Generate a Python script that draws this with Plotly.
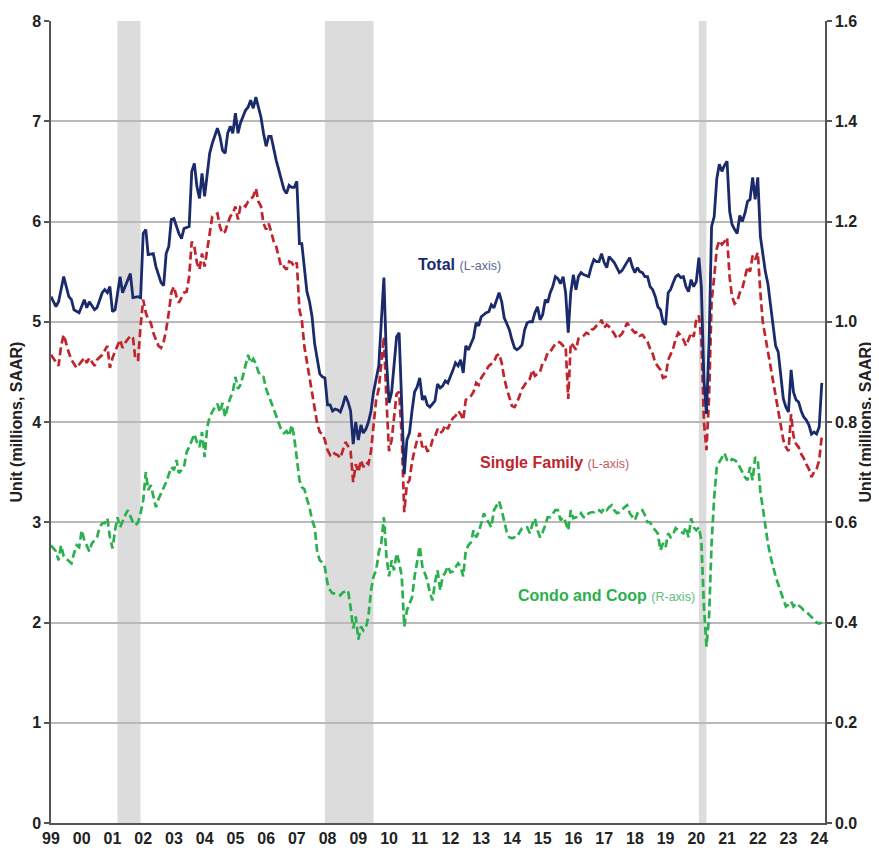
import plotly.graph_objects as go

# ---------------- data ----------------
total_dates = [
 "1999-01","1999-03","1999-04","1999-06","1999-08","1999-09","1999-10","1999-12",
 "2000-02","2000-03","2000-04","2000-06","2000-07","2000-09","2000-10","2000-11","2000-12",
 "2001-01","2001-02","2001-04","2001-05","2001-07","2001-08","2001-09","2001-11","2001-12",
 "2002-01","2002-02","2002-03","2002-05","2002-06","2002-08","2002-09","2002-10","2002-11","2002-12",
 "2003-01","2003-03","2003-04","2003-05","2003-07","2003-08","2003-09","2003-10","2003-11","2003-12",
 "2004-01","2004-03","2004-04","2004-06","2004-07","2004-08","2004-09","2004-10","2004-11","2004-12",
 "2005-01","2005-02","2005-03","2005-05","2005-06","2005-07","2005-08","2005-09","2005-11","2005-12",
 "2006-01","2006-02","2006-03","2006-05","2006-07","2006-08","2006-09","2006-10","2006-11","2006-12",
 "2007-01","2007-02","2007-03","2007-04","2007-05","2007-06","2007-07","2007-08","2007-09","2007-10","2007-11","2007-12",
 "2008-01","2008-02","2008-03","2008-04","2008-05","2008-06","2008-07","2008-08","2008-09","2008-10","2008-11","2008-12",
 "2009-01","2009-02","2009-03","2009-04","2009-05","2009-06","2009-07","2009-08","2009-09","2009-10","2009-11","2009-12",
 "2010-01","2010-02","2010-03","2010-04","2010-05","2010-06","2010-07","2010-08","2010-09","2010-10","2010-11","2010-12",
 "2011-01","2011-02","2011-03","2011-04","2011-05","2011-06","2011-07","2011-08","2011-09","2011-10","2011-11","2011-12",
 "2012-01","2012-02","2012-03","2012-04","2012-05","2012-06","2012-07","2012-08","2012-09","2012-10","2012-11","2012-12",
 "2013-01","2013-02","2013-03","2013-04","2013-05","2013-06","2013-07","2013-08","2013-09","2013-10","2013-11","2013-12",
 "2014-01","2014-02","2014-03","2014-04","2014-05","2014-06","2014-07","2014-08","2014-09","2014-10","2014-11","2014-12",
 "2015-01","2015-02","2015-03","2015-04","2015-05","2015-06","2015-07","2015-08","2015-09","2015-10","2015-11","2015-12",
 "2016-01","2016-02","2016-03","2016-04","2016-05","2016-06","2016-07","2016-08","2016-09","2016-10","2016-11","2016-12",
 "2017-01","2017-02","2017-03","2017-04","2017-05","2017-06","2017-07","2017-08","2017-09","2017-10","2017-11","2017-12",
 "2018-01","2018-02","2018-03","2018-04","2018-05","2018-06","2018-07","2018-08","2018-09","2018-10","2018-11","2018-12",
 "2019-01","2019-02","2019-03","2019-04","2019-05","2019-06","2019-07","2019-08","2019-09","2019-10","2019-11","2019-12",
 "2020-01","2020-02","2020-03","2020-04","2020-05","2020-06","2020-07","2020-08","2020-09","2020-10","2020-11","2020-12",
 "2021-01","2021-02","2021-03","2021-04","2021-05","2021-06","2021-07","2021-08","2021-09","2021-10","2021-11","2021-12",
 "2022-01","2022-02","2022-03","2022-04","2022-05","2022-06","2022-07","2022-08","2022-09","2022-10","2022-11","2022-12",
 "2023-01","2023-02","2023-03","2023-04","2023-05","2023-06","2023-07","2023-08","2023-09","2023-10","2023-11","2023-12",
 "2024-01","2024-02"]
total_vals = [
 5.25,5.15,5.20,5.45,5.25,5.22,5.12,5.09,
 5.22,5.14,5.20,5.12,5.14,5.29,5.32,5.29,5.35,
 5.10,5.12,5.45,5.29,5.43,5.48,5.24,5.25,5.24,
 5.88,5.92,5.67,5.68,5.55,5.39,5.36,5.68,5.75,6.02,
 6.03,5.88,5.83,5.93,5.95,6.50,6.58,6.35,6.23,6.48,
 6.25,6.68,6.78,6.93,6.85,6.71,6.68,6.88,6.95,6.88,
 7.08,6.88,6.98,7.11,7.14,7.21,7.13,7.24,7.04,6.88,
 6.75,6.85,6.85,6.61,6.40,6.32,6.28,6.36,6.34,6.34,
 6.40,5.78,5.78,5.50,5.30,5.20,5.05,4.78,4.62,4.48,4.45,4.44,
 4.17,4.17,4.11,4.13,4.12,4.10,4.17,4.26,4.20,4.11,3.78,4.00,
 3.82,3.97,3.89,3.93,4.00,4.11,4.30,4.44,4.56,5.00,5.44,4.63,
 4.19,4.30,4.56,4.85,4.89,4.22,3.48,3.82,3.89,4.11,4.30,4.35,
 4.44,4.22,4.26,4.17,4.15,4.18,4.21,4.38,4.34,4.36,4.41,4.39,
 4.45,4.52,4.59,4.56,4.62,4.49,4.76,4.72,4.78,4.84,4.99,4.96,
 5.05,5.07,5.09,5.10,5.17,5.14,5.22,5.29,5.20,5.04,4.98,4.92,
 4.82,4.74,4.72,4.74,4.77,4.92,4.99,5.00,5.00,5.09,5.15,5.02,
 5.07,5.22,5.19,5.29,5.35,5.45,5.43,5.38,5.45,5.29,4.89,5.29,
 5.47,5.32,5.45,5.49,5.47,5.46,5.45,5.55,5.62,5.60,5.60,5.68,
 5.59,5.54,5.65,5.62,5.59,5.54,5.49,5.51,5.55,5.60,5.64,5.55,
 5.49,5.54,5.50,5.49,5.45,5.45,5.35,5.32,5.25,5.15,5.12,5.00,
 4.97,5.29,5.32,5.39,5.45,5.47,5.44,5.45,5.35,5.30,5.42,5.35,
 5.40,5.64,5.35,4.42,4.08,4.80,5.95,6.05,6.43,6.57,6.50,6.56,
 6.60,6.10,5.97,5.92,5.88,6.06,6.00,6.08,6.20,6.22,6.44,6.22,
 6.44,5.85,5.68,5.50,5.38,5.15,4.98,4.76,4.70,4.43,4.23,4.15,
 4.10,4.52,4.30,4.22,4.20,4.11,4.05,4.02,3.97,3.88,3.90,3.88,
 3.95,4.39]

sf_dates = [
 "1999-01","1999-03","1999-04","1999-05","1999-06","1999-08","1999-09","1999-11","1999-12",
 "2000-02","2000-03","2000-04","2000-06","2000-07","2000-09","2000-10","2000-11","2000-12",
 "2001-01","2001-03","2001-04","2001-05","2001-06","2001-08","2001-09","2001-10","2001-11","2001-12",
 "2002-01","2002-02","2002-03","2002-04","2002-05","2002-07","2002-08","2002-09","2002-10","2002-11","2002-12",
 "2003-01","2003-02","2003-03","2003-04","2003-05","2003-06","2003-07","2003-08","2003-09","2003-10","2003-11","2003-12",
 "2004-01","2004-02","2004-03","2004-04","2004-06","2004-07","2004-08","2004-09","2004-10","2004-11","2004-12",
 "2005-01","2005-02","2005-03","2005-04","2005-05","2005-06","2005-07","2005-08","2005-09","2005-10","2005-11","2005-12",
 "2006-01","2006-02","2006-03","2006-04","2006-05","2006-06","2006-07","2006-08","2006-09","2006-10","2006-11","2006-12",
 "2007-01","2007-02","2007-03","2007-04","2007-05","2007-06","2007-07","2007-08","2007-09","2007-10","2007-11","2007-12",
 "2008-01","2008-02","2008-03","2008-04","2008-05","2008-06","2008-07","2008-08","2008-09","2008-10","2008-11","2008-12",
 "2009-01","2009-02","2009-03","2009-04","2009-05","2009-06","2009-07","2009-08","2009-09","2009-10","2009-11","2009-12",
 "2010-01","2010-02","2010-03","2010-04","2010-05","2010-06","2010-07","2010-08","2010-09","2010-10","2010-11","2010-12",
 "2011-01","2011-02","2011-03","2011-04","2011-05","2011-06","2011-07","2011-08","2011-09","2011-10","2011-11","2011-12",
 "2012-01","2012-02","2012-03","2012-04","2012-05","2012-06","2012-07","2012-08","2012-09","2012-10","2012-11","2012-12",
 "2013-01","2013-02","2013-03","2013-04","2013-05","2013-06","2013-07","2013-08","2013-09","2013-10","2013-11","2013-12",
 "2014-01","2014-02","2014-03","2014-04","2014-05","2014-06","2014-07","2014-08","2014-09","2014-10","2014-11","2014-12",
 "2015-01","2015-02","2015-03","2015-04","2015-05","2015-06","2015-07","2015-08","2015-09","2015-10","2015-11","2015-12",
 "2016-01","2016-02","2016-03","2016-04","2016-05","2016-06","2016-07","2016-08","2016-09","2016-10","2016-11","2016-12",
 "2017-01","2017-02","2017-03","2017-04","2017-05","2017-06","2017-07","2017-08","2017-09","2017-10","2017-11","2017-12",
 "2018-01","2018-02","2018-03","2018-04","2018-05","2018-06","2018-07","2018-08","2018-09","2018-10","2018-11","2018-12",
 "2019-01","2019-02","2019-03","2019-04","2019-05","2019-06","2019-07","2019-08","2019-09","2019-10","2019-11","2019-12",
 "2020-01","2020-02","2020-03","2020-04","2020-05","2020-06","2020-07","2020-08","2020-09","2020-10","2020-11","2020-12",
 "2021-01","2021-02","2021-03","2021-04","2021-05","2021-06","2021-07","2021-08","2021-09","2021-10","2021-11","2021-12",
 "2022-01","2022-02","2022-03","2022-04","2022-05","2022-06","2022-07","2022-08","2022-09","2022-10","2022-11","2022-12",
 "2023-01","2023-02","2023-03","2023-04","2023-05","2023-06","2023-07","2023-08","2023-09","2023-10","2023-11","2023-12",
 "2024-01","2024-02"]
sf_vals = [
 4.67,4.59,4.56,4.76,4.87,4.69,4.62,4.54,4.57,
 4.64,4.59,4.64,4.56,4.62,4.67,4.72,4.76,4.54,
 4.64,4.76,4.82,4.74,4.79,4.86,4.84,4.62,4.62,4.96,
 5.22,5.09,5.02,4.99,4.89,4.76,4.74,4.80,4.92,5.09,5.29,
 5.35,5.25,5.19,5.25,5.29,5.30,5.45,5.80,5.75,5.59,5.52,5.68,
 5.55,5.72,5.88,6.05,6.08,5.95,5.88,5.90,5.98,6.05,6.08,
 6.15,6.02,6.15,6.17,6.15,6.20,6.22,6.25,6.33,6.20,6.15,5.98,
 5.92,5.98,5.90,5.80,5.75,5.65,5.54,5.55,5.52,5.60,5.59,5.55,
 5.59,5.12,5.02,4.75,4.60,4.48,4.32,4.15,3.98,3.90,3.88,3.82,
 3.72,3.67,3.70,3.68,3.67,3.64,3.71,3.80,3.76,3.71,3.40,3.58,
 3.50,3.62,3.55,3.60,3.58,3.71,3.97,4.22,4.33,4.56,4.85,4.22,
 3.71,3.82,4.04,4.28,4.30,3.86,3.10,3.38,3.42,3.60,3.72,3.82,
 3.89,3.75,3.78,3.71,3.72,3.82,3.85,3.93,3.89,3.91,3.97,3.93,
 4.00,4.04,4.06,4.11,4.08,4.02,4.22,4.24,4.26,4.30,4.39,4.37,
 4.44,4.48,4.52,4.56,4.58,4.60,4.66,4.68,4.59,4.44,4.33,4.24,
 4.16,4.15,4.19,4.26,4.33,4.37,4.41,4.43,4.52,4.46,4.48,4.50,
 4.59,4.62,4.69,4.70,4.74,4.78,4.80,4.79,4.76,4.76,4.23,4.79,
 4.76,4.72,4.83,4.84,4.86,4.89,4.88,4.92,4.93,4.96,4.97,5.02,
 4.94,4.97,4.95,4.92,4.88,4.83,4.86,4.88,4.93,4.99,4.95,4.92,
 4.89,4.90,4.86,4.87,4.83,4.80,4.73,4.68,4.59,4.55,4.52,4.44,
 4.45,4.62,4.68,4.73,4.83,4.89,4.86,4.82,4.76,4.83,4.89,4.85,
 5.02,5.06,4.83,4.00,3.72,4.25,5.20,5.45,5.73,5.81,5.77,5.80,
 5.84,5.44,5.25,5.18,5.20,5.29,5.33,5.44,5.55,5.50,5.66,5.62,
 5.69,5.29,5.00,4.85,4.70,4.55,4.41,4.25,4.11,3.95,3.82,3.75,
 3.71,4.08,3.86,3.78,3.75,3.68,3.64,3.58,3.53,3.45,3.50,3.53,
 3.62,3.86]

condo_dates = [
 "1999-01","1999-02","1999-03","1999-04","1999-05","1999-06","1999-08","1999-09","1999-10","1999-11","1999-12",
 "2000-01","2000-02","2000-03","2000-04","2000-05","2000-07","2000-08","2000-09","2000-10","2000-11","2000-12",
 "2001-01","2001-02","2001-03","2001-04","2001-05","2001-06","2001-07","2001-08","2001-09","2001-10","2001-11","2001-12",
 "2002-01","2002-02","2002-03","2002-04","2002-05","2002-06","2002-07","2002-09","2002-10","2002-12",
 "2003-01","2003-02","2003-03","2003-05","2003-06","2003-07","2003-08","2003-09","2003-10","2003-11","2003-12",
 "2004-01","2004-02","2004-03","2004-04","2004-05","2004-06","2004-07","2004-08","2004-09","2004-10","2004-11","2004-12",
 "2005-01","2005-02","2005-03","2005-04","2005-05","2005-06","2005-07","2005-08","2005-09","2005-10","2005-11","2005-12",
 "2006-01","2006-02","2006-03","2006-04","2006-05","2006-06","2006-07","2006-08","2006-09","2006-10","2006-11","2006-12",
 "2007-01","2007-02","2007-03","2007-04","2007-05","2007-06","2007-07","2007-08","2007-09","2007-10","2007-11","2007-12",
 "2008-01","2008-02","2008-03","2008-04","2008-05","2008-06","2008-07","2008-08","2008-09","2008-10","2008-11","2008-12",
 "2009-01","2009-02","2009-03","2009-04","2009-05","2009-06","2009-07","2009-08","2009-09","2009-10","2009-11","2009-12",
 "2010-01","2010-02","2010-03","2010-04","2010-05","2010-06","2010-07","2010-08","2010-09","2010-10","2010-11","2010-12",
 "2011-01","2011-02","2011-03","2011-04","2011-05","2011-06","2011-07","2011-08","2011-09","2011-10","2011-11","2011-12",
 "2012-01","2012-02","2012-03","2012-04","2012-05","2012-06","2012-07","2012-08","2012-09","2012-10","2012-11","2012-12",
 "2013-01","2013-02","2013-03","2013-04","2013-05","2013-06","2013-07","2013-08","2013-09","2013-10","2013-11","2013-12",
 "2014-01","2014-02","2014-03","2014-04","2014-05","2014-06","2014-07","2014-08","2014-09","2014-10","2014-11","2014-12",
 "2015-01","2015-02","2015-03","2015-04","2015-05","2015-06","2015-07","2015-08","2015-09","2015-10","2015-11","2015-12",
 "2016-01","2016-02","2016-03","2016-04","2016-05","2016-06","2016-07","2016-08","2016-09","2016-10","2016-11","2016-12",
 "2017-01","2017-02","2017-03","2017-04","2017-05","2017-06","2017-07","2017-08","2017-09","2017-10","2017-11","2017-12",
 "2018-01","2018-02","2018-03","2018-04","2018-05","2018-06","2018-07","2018-08","2018-09","2018-10","2018-11","2018-12",
 "2019-01","2019-02","2019-03","2019-04","2019-05","2019-06","2019-07","2019-08","2019-09","2019-10","2019-11","2019-12",
 "2020-01","2020-02","2020-03","2020-04","2020-05","2020-06","2020-07","2020-08","2020-09","2020-10","2020-11","2020-12",
 "2021-01","2021-02","2021-03","2021-04","2021-05","2021-06","2021-07","2021-08","2021-09","2021-10","2021-11","2021-12",
 "2022-01","2022-02","2022-03","2022-04","2022-05","2022-06","2022-07","2022-08","2022-09","2022-10","2022-11","2022-12",
 "2023-01","2023-02","2023-03","2023-04","2023-05","2023-06","2023-07","2023-08","2023-09","2023-10","2023-11","2023-12",
 "2024-01","2024-02"]
condo_vals = [
 0.554,0.548,0.542,0.524,0.554,0.532,0.522,0.518,0.538,0.554,0.550,
 0.584,0.564,0.554,0.542,0.558,0.570,0.590,0.598,0.598,0.608,0.570,
 0.548,0.584,0.610,0.590,0.604,0.614,0.624,0.610,0.600,0.594,0.600,0.618,
 0.644,0.700,0.664,0.674,0.654,0.630,0.646,0.670,0.680,0.710,
 0.704,0.724,0.698,0.710,0.740,0.750,0.764,0.776,0.760,0.750,0.780,
 0.730,0.790,0.810,0.820,0.830,0.836,0.820,0.838,0.810,0.830,0.848,0.860,
 0.890,0.866,0.874,0.892,0.910,0.934,0.918,0.926,0.916,0.900,0.892,0.890,
 0.866,0.850,0.840,0.826,0.812,0.794,0.784,0.778,0.782,0.772,0.794,0.770,
 0.720,0.684,0.670,0.666,0.646,0.630,0.604,0.590,0.540,0.524,0.520,0.510,
 0.478,0.464,0.458,0.458,0.456,0.454,0.460,0.462,0.464,0.430,0.388,0.412,
 0.366,0.392,0.384,0.390,0.412,0.464,0.492,0.504,0.540,0.558,0.610,0.532,
 0.492,0.524,0.504,0.538,0.520,0.492,0.392,0.424,0.438,0.450,0.492,0.520,
 0.552,0.512,0.500,0.484,0.460,0.444,0.480,0.504,0.464,0.492,0.500,0.512,
 0.500,0.502,0.510,0.518,0.512,0.492,0.544,0.554,0.560,0.584,0.570,0.580,
 0.598,0.618,0.608,0.600,0.590,0.624,0.634,0.642,0.624,0.604,0.580,0.570,
 0.568,0.570,0.570,0.580,0.588,0.590,0.590,0.578,0.596,0.608,0.584,0.570,
 0.580,0.594,0.610,0.610,0.618,0.624,0.624,0.604,0.610,0.600,0.584,0.624,
 0.608,0.610,0.610,0.618,0.610,0.610,0.618,0.620,0.620,0.624,0.624,0.620,
 0.628,0.624,0.630,0.634,0.624,0.618,0.620,0.624,0.630,0.634,0.618,0.610,
 0.604,0.618,0.624,0.624,0.614,0.600,0.600,0.590,0.584,0.578,0.544,0.558,
 0.550,0.578,0.570,0.576,0.588,0.584,0.580,0.578,0.590,0.570,0.608,0.590,
 0.584,0.590,0.564,0.432,0.352,0.412,0.558,0.650,0.710,0.720,0.730,0.738,
 0.724,0.720,0.726,0.724,0.720,0.710,0.700,0.690,0.684,0.710,0.684,0.730,
 0.724,0.660,0.630,0.590,0.558,0.532,0.510,0.492,0.476,0.460,0.444,0.432,
 0.436,0.442,0.432,0.438,0.434,0.430,0.424,0.422,0.416,0.412,0.406,0.400,
 0.398,0.400]

recession_starts = ["2001-03-01", "2007-12-01", "2020-02-01"]
recession_ends = ["2001-11-30", "2009-06-30", "2020-04-30"]

# ---------------- styling ----------------
NAVY = "#1b2a6b"
RED = "#c0242c"
GREEN = "#2bb04e"
FONT = "Liberation Sans Narrow, Arial Narrow, Liberation Sans, Arial, sans-serif"
AXIS = "#555555"
TXT = "#222222"

fig = go.Figure()
fig.add_trace(go.Scatter(x=condo_dates, y=condo_vals, yaxis="y2", mode="lines",
                         line=dict(color=GREEN, width=2.7, dash="8px,4px"), name="Condo and Coop"))
fig.add_trace(go.Scatter(x=sf_dates, y=sf_vals, mode="lines",
                         line=dict(color=RED, width=2.7, dash="8px,4px"), name="Single Family"))
fig.add_trace(go.Scatter(x=total_dates, y=total_vals, mode="lines",
                         line=dict(color=NAVY, width=2.8), name="Total"))

shapes = []
for s, e in zip(recession_starts, recession_ends):
    shapes.append(dict(type="rect", xref="x", yref="paper", x0=s, x1=e, y0=0, y1=1,
                       fillcolor="#dcdcdc", line=dict(width=0), layer="below"))
fig.update_layout(shapes=shapes)

annotations = [
    dict(xref="paper", yref="paper", x=0.4716, y=0.696, xanchor="left", yanchor="middle",
         showarrow=False,
         text="<b>Total</b> <span style='font-size:12.5px;color:#5b6796'>(L-axis)</span>",
         font=dict(family=FONT, size=16, color=NAVY)),
    dict(xref="paper", yref="paper", x=0.5517, y=0.449, xanchor="left", yanchor="middle",
         showarrow=False,
         text="<b>Single Family</b> <span style='font-size:12.5px;color:#c65a5e'>(L-axis)</span>",
         font=dict(family=FONT, size=16, color=RED)),
    dict(xref="paper", yref="paper", x=0.6005, y=0.284, xanchor="left", yanchor="middle",
         showarrow=False,
         text="<b>Condo and Coop</b> <span style='font-size:12.5px;color:#5dbd7a'>(R-axis)</span>",
         font=dict(family=FONT, size=16, color=GREEN)),
]

tickfont = dict(family=FONT, size=16, color=TXT, weight="bold")
titlefont = dict(family=FONT, size=16, color=TXT, weight="bold")

# the page adds an 8px body margin, so the figure is sized/offset to land on the reference layout
fig.update_layout(
    width=871, height=850,
    margin=dict(l=43, r=54, t=13, b=35, autoexpand=False),
    paper_bgcolor="white", plot_bgcolor="white",
    showlegend=False,
    annotations=annotations,
    font=dict(family=FONT, size=16, color=TXT),
    xaxis=dict(type="date", range=["1999-01-01", "2024-03-10"],
               tick0="1999-01-01", dtick="M12", tickformat="%y",
               showgrid=False, zeroline=False, showline=True, linecolor=AXIS, linewidth=1.5,
               ticks="", tickfont=tickfont, automargin=False),
    yaxis=dict(range=[0, 8], dtick=1, showgrid=True, gridcolor="#b9b9b9", gridwidth=1.5,
               zeroline=False, showline=True, linecolor=AXIS, linewidth=1.5,
               ticks="outside", ticklen=5, tickcolor=AXIS, tickwidth=1.5,
               tickfont=tickfont, automargin=False,
               title=dict(text="Unit (millions, SAAR)", standoff=6, font=titlefont)),
    yaxis2=dict(range=[0, 1.6], dtick=0.2, tickformat=".1f", overlaying="y", side="right",
                showgrid=False, zeroline=False, showline=True, linecolor=AXIS, linewidth=1.5,
                ticks="outside", ticklen=5, tickcolor=AXIS, tickwidth=1.5,
                tickfont=tickfont, automargin=False,
                title=dict(text="Unit (millions, SAAR)", standoff=2, font=titlefont)),
)

fig.write_html("out.html")
